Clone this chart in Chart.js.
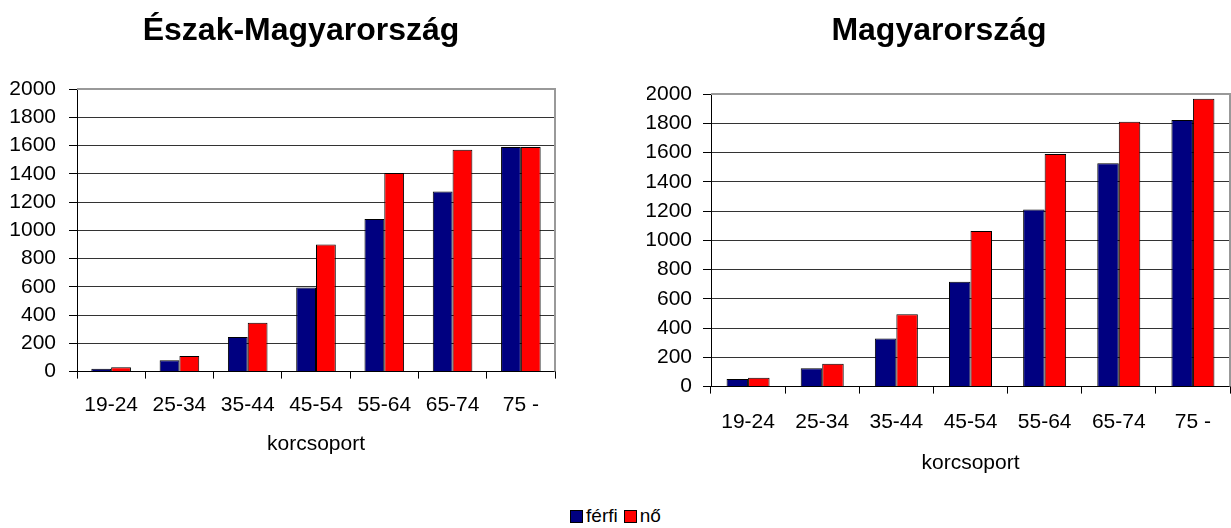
<!DOCTYPE html>
<html>
<head>
<meta charset="utf-8">
<script src="https://cdn.jsdelivr.net/npm/chart.js@4.4.0/dist/chart.umd.min.js"></script>
<style>
    html, body { margin: 0; padding: 0; background: #fff; }
    #page { position: relative; width: 1231px; height: 528px; overflow: hidden; font-family: "Liberation Sans", Arial, sans-serif; }
    .wrap { position: absolute; top: 0; }
    #wrapLeft { left: 0; width: 602px; height: 458px; }
    #wrapRight { left: 647px; width: 584px; height: 477px; }
    #legend { position: absolute; left: 0; top: 505px; width: 1231px; text-align: center; font-size: 19px; color: #000; }
    #legend span.item { margin: 0 3px; }
    #legend i { display: inline-block; width: 11px; height: 11px; border: 1px solid #000; margin-right: 3px; vertical-align: -1px; }
</style>
</head>
<body>
<div id="page">
    <div class="wrap" id="wrapLeft"><canvas id="northChart"></canvas></div>
    <div class="wrap" id="wrapRight"><canvas id="hunChart"></canvas></div>
    <div id="legend"></div>
</div>
<script>
const ageGroups = ["19-24", "25-34", "35-44", "45-54", "55-64", "65-74", "75 -"];
const northMale = [20, 80, 245, 595, 1080, 1275, 1590];
const northFemale = [30, 110, 345, 900, 1405, 1570, 1590];
const hunMale = [52, 125, 328, 717, 1210, 1527, 1823];
const hunFemale = [61, 157, 494, 1063, 1590, 1811, 1968];
const seriesNames = ["férfi", "nő"];
const seriesColors = ["#000080", "#ff0000"];
const yMin = 0, yMax = 2000, yStep = 200;

Chart.defaults.font.family = '"Liberation Sans", Arial, sans-serif';
Chart.defaults.color = "#000";

// gray frame on top and right of the plot area
const plotBorder = {
    id: "plotBorder",
    afterDatasetsDraw(chart) {
        const a = chart.chartArea;
        const ctx = chart.ctx;
        ctx.save();
        ctx.strokeStyle = "#999";
        ctx.lineWidth = 2;
        ctx.beginPath();
        ctx.moveTo(a.left, a.top);
        ctx.lineTo(a.right, a.top);
        ctx.lineTo(a.right, a.bottom);
        ctx.stroke();
        ctx.restore();
    }
};

function makeChart(id, title, male, female, cfg) {
    const ctx = document.getElementById(id).getContext("2d");
    return new Chart(ctx, {
        type: "bar",
        data: {
            labels: ageGroups,
            datasets: [male, female].map((d, i) => ({
                label: seriesNames[i],
                data: d,
                backgroundColor: seriesColors[i],
                borderColor: "#000",
                borderWidth: 1,
                categoryPercentage: 0.58,
                barPercentage: 1
            }))
        },
        options: {
            responsive: true,
            maintainAspectRatio: false,
            animation: false,
            layout: { padding: 0 },
            plugins: {
                legend: { display: false },
                tooltip: { enabled: false },
                title: {
                    display: true,
                    text: title,
                    font: { size: 32, weight: "bold" },
                    color: "#000",
                    padding: { top: 12, bottom: cfg.titleBottom }
                }
            },
            scales: {
                x: {
                    grid: { offset: true, drawOnChartArea: false, tickLength: 7, tickColor: "#000" },
                    border: { color: "#000" },
                    ticks: { font: { size: 21 }, padding: cfg.xPad, maxRotation: 0 },
                    title: {
                        display: true,
                        text: "korcsoport",
                        font: { size: 21 },
                        padding: { top: 0, bottom: 1 }
                    }
                },
                y: {
                    min: yMin,
                    max: yMax,
                    ticks: { stepSize: yStep, font: { size: 21 }, padding: cfg.yPad, callback: v => String(v) },
                    grid: { color: "#333", tickLength: 8, tickColor: "#000" },
                    border: { color: "#000" },
                    afterFit(scale) { scale.width = cfg.yWidth; }
                },
                // empty spacer on the right so the title centres like the original
                spacer: {
                    type: "linear",
                    position: "right",
                    grid: { display: false },
                    ticks: { display: false },
                    border: { display: false },
                    afterFit(scale) { scale.width = cfg.rightSpace; }
                }
            }
        },
        plugins: [plotBorder]
    });
}

makeChart("northChart", "Észak-Magyarország", northMale, northFemale,
    { rightSpace: 47, titleBottom: 38.6, xPad: 14, yPad: 13, yWidth: 77 });
makeChart("hunChart", "Magyarország", hunMale, hunFemale,
    { rightSpace: 1, titleBottom: 43.6, xPad: 16, yPad: 11, yWidth: 64 });

const legend = document.getElementById("legend");
seriesNames.forEach((name, i) => {
    const s = document.createElement("span");
    s.className = "item";
    s.innerHTML = `<i style="background:${seriesColors[i]}"></i>${name}`;
    legend.appendChild(s);
});
</script>
</body>
</html>
